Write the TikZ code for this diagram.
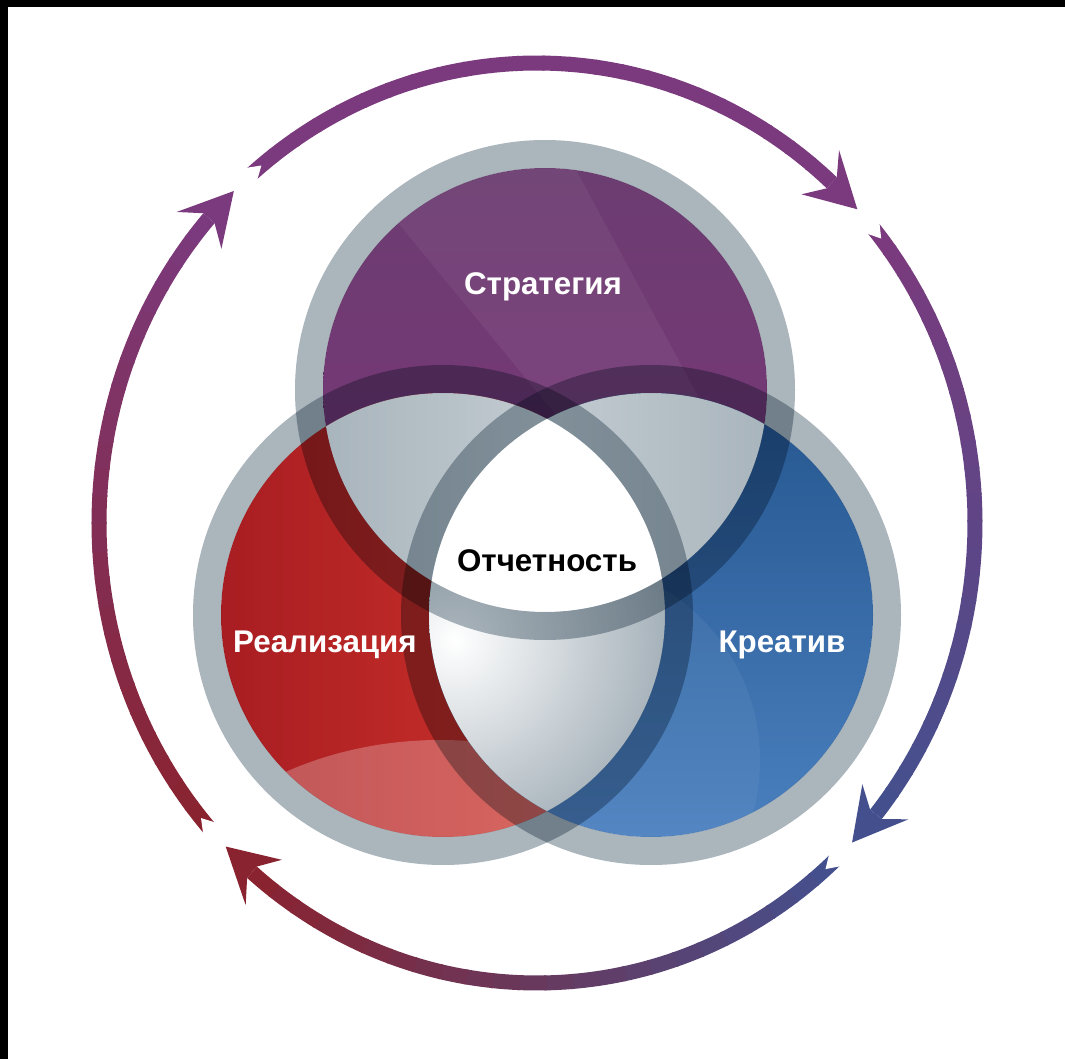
\documentclass[tikz,border=0pt]{standalone}
\usepackage{fontspec}
\setmainfont{Liberation Sans}
\usetikzlibrary{calc}

% arrow ring colours
\definecolor{arrPurple}{HTML}{7B3A7D}
\definecolor{arrBlue}{HTML}{44508E}
\definecolor{arrMaroon}{HTML}{8A2330}
% circle colours
\definecolor{stratTop}{HTML}{6C3D71}
\definecolor{stratMid}{HTML}{5C285D}
\definecolor{stratBot}{HTML}{7A3578}
\definecolor{realDark}{HTML}{A81D22}
\definecolor{realLight}{HTML}{D8392D}
\definecolor{creaDark}{HTML}{25568F}
\definecolor{creaLight}{HTML}{4A80BF}
\definecolor{ringGray}{HTML}{AAB5BC}
\definecolor{lensDark}{HTML}{9DAAB3}
\definecolor{lensLight}{HTML}{CFD7DB}

\tikzset{
  circlelabel/.style={font=\bfseries\fontsize{23.5}{26}\selectfont, text=white, inner sep=0pt},
  corelabel/.style={circlelabel, text=black},
}

% one clockwise arrow of the outer cycle:
% #1 tail angle, #2 tip angle, #3 tail colour, #4 head colour
\newcommand{\cyclearrow}[4]{%
  \pgfmathsetmacro\ca{#1}%
  \pgfmathsetmacro\cb{#2-5.0}%
  \pgfmathsetmacro\cstep{(\cb-\ca)/24}%
  \foreach \k in {0,...,23}{%
    \pgfmathsetmacro\sa{\ca+\k*\cstep}%
    \pgfmathsetmacro\sb{\ca+(\k+1)*\cstep+0.3}%
    \pgfmathtruncatemacro\pc{100*\k/23}%
    \fill[#4!\pc!#3] plot[domain=\sa:\sb,samples=5] ({537+445.5*cos(\x)},{523+467.5*sin(\x)})
      -- plot[domain=\sb:\sa,samples=5] ({537+430.5*cos(\x)},{523+452.5*sin(\x)}) -- cycle;
  }%
  % swallow-tail notch at the start
  \fill[white] ({537+449*cos(\ca-0.6)},{523+471*sin(\ca-0.6)})
    -- ({537+438*cos(\ca+1.6)},{523+460*sin(\ca+1.6)})
    -- ({537+427*cos(\ca-0.6)},{523+449*sin(\ca-0.6)}) -- cycle;
  % arrow head
  \fill[#4] ({537+445.5*cos(\cb+0.3)},{523+467.5*sin(\cb+0.3)})
    -- ({537+467*cos(\cb-1.7)},{523+489*sin(\cb-1.7)})
    -- ({537+438*cos(#2)},{523+460*sin(#2)})
    -- ({537+409*cos(\cb-1.7)},{523+431*sin(\cb-1.7)})
    -- ({537+430.5*cos(\cb+0.3)},{523+452.5*sin(\cb+0.3)}) -- cycle;
}

\begin{document}
\begin{tikzpicture}[x=0.75pt,y=-0.75pt]
\useasboundingbox (0,0) rectangle (1065,1059);
\fill[white] (0,0) rectangle (1065,1059);
\fill[black] (0,0) rectangle (1065,7);
\fill[black] (0,0) rectangle (8,1059);

% ---------- outer cycle of four arrows ----------
\cyclearrow{-130.6}{-43.0}{arrPurple}{arrPurple}
\cyclearrow{-39.8}{44.0}{arrPurple}{arrBlue}
\cyclearrow{47.2}{135.3}{arrBlue}{arrMaroon}
\cyclearrow{138.5}{226.2}{arrMaroon}{arrPurple}

% ---------- three circles ----------
\def\rin{222}
\def\rout{250}
\coordinate (T) at (545,390);
\coordinate (L) at (443,615);
\coordinate (R) at (651,615);

% coloured discs
\shade[top color=stratTop, middle color=stratMid, bottom color=stratBot] (T) circle[radius=\rin];
\shade[left color=realDark, right color=realLight] (L) circle[radius=\rin];
\shade[shading angle=45, top color=creaDark, bottom color=creaLight] (R) circle[radius=\rin];

% soft sheens on the coloured discs
\begin{scope}
  \clip (T) circle[radius=\rin];
  \fill[white, opacity=0.05] (330,140) -- (560,140) -- (700,400) -- (560,420) -- cycle;
\end{scope}
\begin{scope}
  \clip (L) circle[radius=\rin];
  \fill[white, opacity=0.25] (440,1015) circle[x radius=330, y radius=275];
\end{scope}
\begin{scope}
  \clip (R) circle[radius=\rin];
  \fill[white, opacity=0.05] (560,760) circle[radius=200];
\end{scope}

% pairwise overlaps
\begin{scope}
  \clip (T) circle[radius=\rin];
  \shade[left color=lensDark, right color=lensLight] (L) circle[radius=\rin];
\end{scope}
\begin{scope}
  \clip (T) circle[radius=\rin];
  \shade[left color=lensLight, right color=lensDark] (R) circle[radius=\rin];
\end{scope}
\begin{scope}
  \clip (L) circle[radius=\rin];
  \clip (R) circle[radius=\rin];
  \shade[inner color=white, outer color=lensDark] (455,640) circle[radius=230];
\end{scope}

% common core
\begin{scope}
  \clip (T) circle[radius=\rin];
  \clip (L) circle[radius=\rin];
  \fill[white] (R) circle[radius=\rin];
\end{scope}

% translucent grey rims
\begin{scope}[blend mode=multiply]
  \fill[ringGray, even odd rule] (T) circle[radius=\rout] (T) circle[radius=\rin];
  \fill[ringGray, even odd rule] (L) circle[radius=\rout] (L) circle[radius=\rin];
  \fill[ringGray, even odd rule] (R) circle[radius=\rout] (R) circle[radius=\rin];
\end{scope}

% ---------- labels ----------
\node[circlelabel] (strategy) at (543,287) {Стратегия};
\node[circlelabel] (delivery) at (325,645) {Реализация};
\node[circlelabel] (creative) at (782,645) {Креатив};
\node[corelabel] (reporting) at (547,561) {Отчетность};
\end{tikzpicture}
\end{document}
